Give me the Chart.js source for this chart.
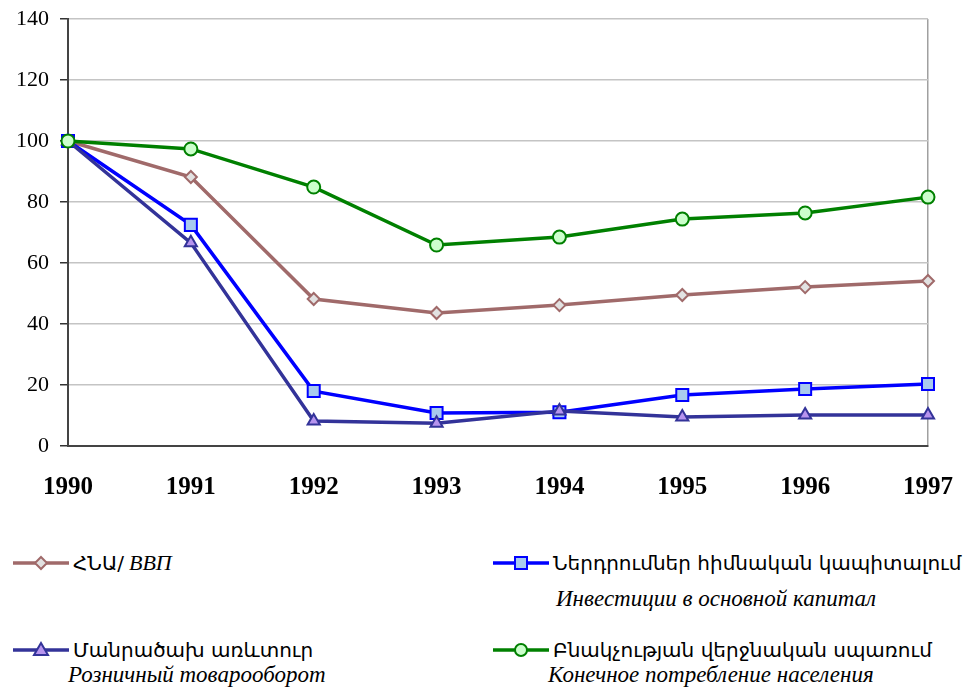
<!DOCTYPE html>
<html>
<head>
<meta charset="utf-8">
<script src="https://cdn.jsdelivr.net/npm/chart.js@4"></script>
<style>
  body { margin: 0; background: #fff; width: 964px; height: 688px; overflow: hidden; position: relative; }
  #wrap { position: absolute; left: 0; top: 0; width: 964px; height: 540px; }
  .leg { position: absolute; font-size: 20px; color: #000; white-space: nowrap; line-height: 24px; }
  .leg svg { position: absolute; left: 0; top: 2px; }
  .leg .t { position: absolute; left: 60px; top: 0; }
  .am { font-family: 'DejaVu Sans'; font-size: 20px; }
  .ru { position: absolute; font-family: 'Liberation Serif'; font-style: italic; font-size: 23px; color: #000; white-space: nowrap; line-height: 24px; }
</style>
</head>
<body>
<div class="leg" style="left:13px;top:551px"><svg class="mk" data-i="0" width="60" height="20"></svg><span class="t"><span class="am">ՀՆԱ/</span> <i style="font-family:'Liberation Serif';font-size:22px">ВВП</i></span></div>
<div class="leg" style="left:493px;top:551px"><svg class="mk" data-i="1" width="60" height="20"></svg><span class="t am">Ներդրումներ հիմնական կապիտալում</span></div>
<div class="ru" style="left:556px;top:587px">Инвестиции в основной капитал</div>
<div class="leg" style="left:13px;top:638px"><svg class="mk" data-i="2" width="60" height="20"></svg><span class="t am">Մանրածախ առևտուր</span></div>
<div class="ru" style="left:68px;top:663px">Розничный товарооборот</div>
<div class="leg" style="left:493px;top:638px"><svg class="mk" data-i="3" width="60" height="20"></svg><span class="t am">Բնակչության վերջնական սպառում</span></div>
<div class="ru" style="left:548px;top:663px">Конечное потребление населения</div>
<div id="wrap"><canvas id="chart"></canvas></div>
<script>
// data (index 1990 = 100)
const years = ['1990', '1991', '1992', '1993', '1994', '1995', '1996', '1997'];
const gdp = [100, 88.2, 48.2, 43.6, 46.2, 49.5, 52.1, 54.1];
const investment = [100, 72.5, 18.0, 10.8, 11.1, 16.7, 18.7, 20.3];
const retail = [100, 66.6, 8.2, 7.5, 11.5, 9.5, 10.2, 10.2];
const consumption = [100, 97.4, 84.9, 65.9, 68.5, 74.4, 76.4, 81.6];

const yTicks = [0, 20, 40, 60, 80, 100, 120, 140];

const seriesNames = ['GDP', 'Investment in fixed capital', 'Retail trade', 'Final consumption'];

const fontFam = "'Liberation Serif'";

const datasets = [
  { label: seriesNames[0], data: gdp, borderColor: '#a06a6a', backgroundColor: '#e2e2e2',
    pointStyle: 'rectRot', pointRadius: 6, pointBorderColor: '#a06a6a', order: 3 },
  { label: seriesNames[1], data: investment, borderColor: '#0000ff', backgroundColor: '#a8caee',
    pointStyle: 'rect', pointRadius: 8.5, pointBorderColor: '#0000ff', order: 2 },
  { label: seriesNames[2], data: retail, borderColor: '#333399', backgroundColor: '#b794ee',
    pointStyle: 'triangle', pointRadius: 7, pointBorderColor: '#333399', order: 1 },
  { label: seriesNames[3], data: consumption, borderColor: '#008000', backgroundColor: '#ccffcc',
    pointStyle: 'circle', pointRadius: 6.5, pointBorderColor: '#008000', order: 0 }
];
datasets.forEach(d => {
  d.borderWidth = 3.5;
  d.pointBorderWidth = 2;
  d.pointBackgroundColor = d.backgroundColor;
  d.tension = 0;
  d.fill = false;
});

// legend markers, styled after the datasets
function markerSvg(d) {
  const c = 28, fill = d.backgroundColor, st = d.borderColor;
  let m = '';
  if (d.pointStyle === 'rectRot') m = `<polygon points="${c},4 ${c + 6},10 ${c},16 ${c - 6},10" fill="${fill}" stroke="${st}" stroke-width="2"/>`;
  if (d.pointStyle === 'rect') m = `<rect x="${c - 6}" y="4" width="12" height="12" fill="${fill}" stroke="${st}" stroke-width="2"/>`;
  if (d.pointStyle === 'triangle') m = `<polygon points="${c},3 ${c + 7},15 ${c - 7},15" fill="${fill}" stroke="${st}" stroke-width="2"/>`;
  if (d.pointStyle === 'circle') m = `<circle cx="${c}" cy="10" r="6" fill="${fill}" stroke="${st}" stroke-width="2"/>`;
  return `<line x1="0" y1="10" x2="56" y2="10" stroke="${st}" stroke-width="3.5"/>${m}`;
}
document.querySelectorAll('svg.mk').forEach(el => { el.innerHTML = markerSvg(datasets[+el.dataset.i]); });

new Chart(document.getElementById('chart'), {
  type: 'line',
  data: { labels: years, datasets },
  options: {
    responsive: true,
    maintainAspectRatio: false,
    animation: false,
    layout: { padding: { left: 5, right: 36, top: 19, bottom: 10 } },
    plugins: { legend: { display: false }, tooltip: { enabled: false } },
    scales: {
      x: {
        offset: false,
        afterFit: s => { s.paddingLeft = 0; s.paddingRight = 0; },
        grid: {
          drawTicks: false,
          color: ctx => ctx.index === years.length - 1 ? '#a0a0a0' : 'rgba(0,0,0,0)',
          lineWidth: 1.5
        },
        border: { color: '#444', width: 2 },
        ticks: { color: '#000', padding: 27, maxRotation: 0, font: { family: fontFam, size: 25, weight: 'bold' } }
      },
      y: {
        min: 0,
        max: 140,
        afterFit: s => { s.paddingTop = 0; s.paddingBottom = 0; },
        afterBuildTicks: axis => { axis.ticks = yTicks.map(v => ({ value: v })); },
        grid: { color: '#c4c4c4', lineWidth: 1.5, tickLength: 8, tickColor: '#333', tickWidth: 1.5 },
        border: { color: '#444', width: 2 },
        ticks: { color: '#000', padding: 11, font: { family: fontFam, size: 22 } }
      }
    }
  }
});
</script>
</body>
</html>
